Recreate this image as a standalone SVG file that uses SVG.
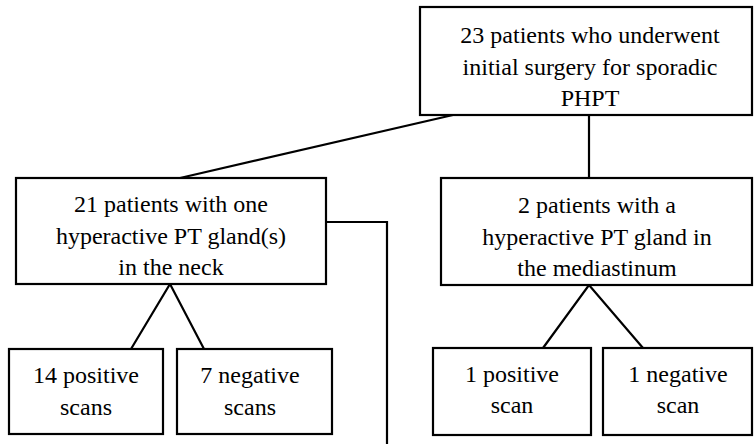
<svg xmlns="http://www.w3.org/2000/svg" width="754" height="444" viewBox="0 0 754 444">
<style>
rect{fill:#fff;stroke:#000;stroke-width:2.2}
line,polyline{stroke:#000;stroke-width:2.2;fill:none}
text{font-family:'Times New Roman','Liberation Serif','DejaVu Serif',Georgia,serif;font-size:24px;text-anchor:middle;fill:#000}
</style>
<rect x="0" y="0" width="754" height="444" style="stroke:none"/>
<g id="connectors">
<line x1="180" y1="178" x2="453" y2="115"/>
<line x1="589" y1="115" x2="589" y2="178"/>
<polyline points="326,222 387,222 387,444"/>
<polyline points="131,349 170,284 204,349"/>
<polyline points="543,348 589,285 643,348"/>
</g>
<g id="top">
<rect x="420" y="7" width="332" height="108"/>
<text x="590" y="43">23 patients who underwent</text>
<text x="590" y="75">initial surgery for sporadic</text>
<text x="590" y="106">PHPT</text>
</g>
<g id="neck">
<rect x="16" y="178" width="310" height="106"/>
<text x="171" y="212">21 patients with one</text>
<text x="171" y="244">hyperactive PT gland(s)</text>
<text x="171" y="275">in the neck</text>
</g>
<g id="mediastinum">
<rect x="441" y="178" width="311" height="107"/>
<text x="597" y="213">2 patients with a</text>
<text x="597" y="245">hyperactive PT gland in</text>
<text x="597" y="276">the mediastinum</text>
</g>
<g id="neckpos">
<rect x="9" y="349" width="154" height="85"/>
<text x="86" y="383">14 positive</text>
<text x="86" y="415">scans</text>
</g>
<g id="neckneg">
<rect x="177" y="349" width="155" height="85"/>
<text x="250" y="383">7 negative</text>
<text x="250" y="415">scans</text>
</g>
<g id="medpos">
<rect x="433" y="348" width="158" height="87"/>
<text x="512" y="382">1 positive</text>
<text x="512" y="413">scan</text>
</g>
<g id="medneg">
<rect x="603" y="348" width="149" height="87"/>
<text x="678" y="382">1 negative</text>
<text x="678" y="413">scan</text>
</g>
</svg>
